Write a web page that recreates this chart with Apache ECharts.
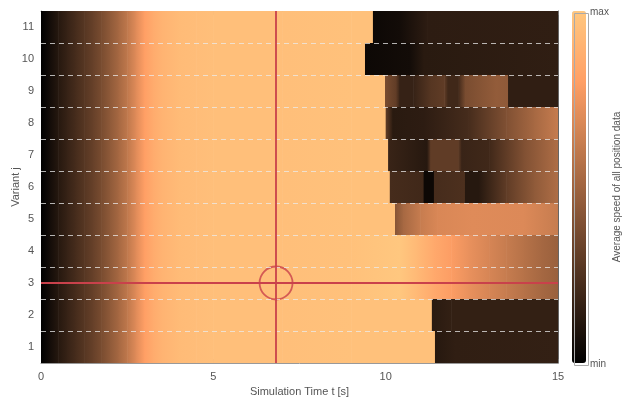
<!DOCTYPE html>
<html>
<head>
<meta charset="utf-8">
<script src="https://cdn.jsdelivr.net/npm/echarts@6/dist/echarts.min.js"></script>
<style>
  html, body { margin: 0; padding: 0; background: #fff; }
  #chart { width: 624px; height: 399px; }
</style>
</head>
<body>
<div id="chart"></div>
<script>
// variants on the y axis, dashed dividers between them
const variants = [1, 2, 3, 4, 5, 6, 7, 8, 9, 10, 11];
const dividers = [1.5, 2.5, 3.5, 4.5, 5.5, 6.5, 7.5, 8.5, 9.5, 10.5];

// common start of every variant (normalised speed 0 = min, 1 = max)
const rampTime  = [0, 0.25, 0.5, 0.75, 1, 1.25, 1.5, 1.75, 2, 2.25, 2.5, 2.75, 3, 3.25, 3.5, 4, 4.5, 5, 7, 9];
const rampSpeed = [0, 0.06, 0.12, 0.17, 0.22, 0.27, 0.32, 0.38, 0.45, 0.52, 0.6, 0.7, 0.8, 0.86, 0.9, 0.94, 0.95, 0.96, 0.96, 0.97];

// rest of each variant as [time, speed]; same time twice = a jump
const tail1  = [[11.43, 0.97], [11.43, 0.12], [12, 0.15], [15, 0.16]];
const tail2  = [[11.34, 0.97], [11.34, 0.13], [11.9, 0.16], [15, 0.16]];
const tail3  = [[10.4, 1.0], [10.9, 0.93], [11.4, 0.85], [11.9, 0.79], [12.4, 0.73], [13, 0.67], [13.5, 0.62], [14, 0.57], [14.5, 0.52], [15, 0.48]];
const tail4  = [[10.4, 1.0], [10.9, 0.93], [11.4, 0.85], [11.9, 0.79], [12.4, 0.73], [13, 0.67], [13.5, 0.62], [14, 0.57], [14.5, 0.52], [15, 0.48]];
const tail5  = [[10.27, 0.97], [10.27, 0.42], [10.5, 0.52], [11, 0.62], [11.5, 0.68], [12.5, 0.7], [14, 0.69], [15, 0.62]];
const tail6  = [[10.12, 0.97], [10.12, 0.22], [11.1, 0.2], [11.1, 0.04], [11.4, 0.04], [11.4, 0.22], [12.3, 0.24], [12.3, 0.12], [12.7, 0.12], [13.5, 0.3], [14.3, 0.45], [15, 0.55]];
const tail7  = [[10.07, 0.97], [10.07, 0.18], [11.2, 0.12], [11.3, 0.3], [12.1, 0.3], [12.2, 0.18], [13, 0.2], [14, 0.4], [15, 0.55]];
const tail8  = [[10.0, 0.97], [10.0, 0.3], [10.2, 0.13], [11.1, 0.14], [12.4, 0.22], [13.5, 0.4], [14.3, 0.52], [15, 0.62]];
const tail9  = [[9.98, 0.97], [9.98, 0.38], [10.3, 0.3], [10.4, 0.17], [10.8, 0.17], [11.3, 0.27], [11.7, 0.3], [11.8, 0.2], [12.1, 0.2], [12.3, 0.38], [13.2, 0.46], [13.55, 0.45], [13.55, 0.15], [15, 0.15]];
const tail10 = [[9.4, 0.97], [9.4, 0.04], [10.7, 0.06], [11.1, 0.13], [15, 0.15]];
const tail11 = [[9.63, 0.97], [9.63, 0.04], [10.4, 0.06], [11.2, 0.14], [15, 0.15]];
const tails = [tail1, tail2, tail3, tail4, tail5, tail6, tail7, tail8, tail9, tail10, tail11];

// selected point (crosshair)
const selTime = 6.82;
const selVariant = 3;

// matlab copper colormap
const copperStops = ['#000000', '#402819', '#805033', '#bf784c', '#ff9f65', '#ffc77f'];
function copper(v) {
  const r = Math.min(1, 1.25 * v), g = 0.7812 * v, b = 0.4975 * v;
  return 'rgb(' + Math.round(r * 255) + ',' + Math.round(g * 255) + ',' + Math.round(b * 255) + ')';
}

// segments [t0, t1, variant, v0, v1]
const cells = [];
variants.forEach((j, k) => {
  const pts = rampTime.map((t, i) => [t, rampSpeed[i]]).concat(tails[k]);
  for (let i = 0; i < pts.length - 1; i++) {
    if (pts[i + 1][0] > pts[i][0]) cells.push([pts[i][0], pts[i + 1][0], j, pts[i][1], pts[i + 1][1]]);
  }
});

const FONT = 'Liberation Sans, Arial, sans-serif';
const TXT = '#555';
const AX = '#999';
const RED = '#c9414b';

const chart = echarts.init(document.getElementById('chart'));
chart.setOption({
  animation: false,
  textStyle: { fontFamily: FONT },
  grid: { left: 41, right: 66, top: 11, bottom: 36, outerBoundsMode: 'none', containLabel: false },
  xAxis: [{
    type: 'value', min: 0, max: 15, interval: 5,
    name: 'Simulation Time t [s]', nameLocation: 'middle', nameGap: 22,
    nameTextStyle: { color: TXT, fontSize: 11, fontFamily: FONT },
    axisLine: { onZero: false, lineStyle: { color: AX } },
    axisTick: { inside: true, length: 4, lineStyle: { color: '#777' } },
    axisLabel: { color: TXT, fontSize: 11, margin: 8, fontFamily: FONT },
    splitLine: { show: false }
  }, {
    type: 'value', position: 'top', min: 0, max: 15, interval: 5,
    axisLine: { onZero: false, lineStyle: { color: AX } },
    axisTick: { inside: true, length: 4, lineStyle: { color: '#777' } },
    axisLabel: { show: false },
    splitLine: { show: false }
  }],
  yAxis: [{
    type: 'value', min: 0.5, max: 11.5,
    name: 'Variant j', nameLocation: 'middle', nameGap: 20, nameMoveOverlap: false,
    nameTextStyle: { color: TXT, fontSize: 11, fontFamily: FONT },
    axisLine: { onZero: false, lineStyle: { color: AX } },
    axisTick: { inside: true, length: 4, customValues: variants, lineStyle: { color: '#777' } },
    axisLabel: { color: TXT, fontSize: 11, margin: 7, customValues: variants, fontFamily: FONT },
    splitLine: { show: false }
  }, {
    type: 'value', position: 'right', min: 0.5, max: 11.5,
    axisLine: { onZero: false, lineStyle: { color: '#666' } },
    axisTick: { inside: true, length: 4, customValues: variants, lineStyle: { color: '#777' } },
    axisLabel: { show: false },
    splitLine: { show: false }
  }],
  visualMap: {
    type: 'continuous', min: 0, max: 1, dimension: 3, seriesIndex: [],
    calculable: false, show: true, text: null, showLabel: false,
    left: 572, top: 11, padding: 0, itemWidth: 14, itemHeight: 352,
    inRange: { color: copperStops }
  },
  series: [{
    type: 'custom',
    clip: true,
    data: cells,
    encode: { x: [0, 1], y: 2 },
    renderItem: function (params, api) {
      const p0 = api.coord([api.value(0), api.value(2) + 0.5]);
      const p1 = api.coord([api.value(1), api.value(2) - 0.5]);
      return {
        type: 'rect',
        shape: { x: p0[0], y: p0[1], width: p1[0] - p0[0] + 0.6, height: p1[1] - p0[1] },
        style: {
          fill: new echarts.graphic.LinearGradient(0, 0, 1, 0, [
            { offset: 0, color: copper(api.value(3)) },
            { offset: 1, color: copper(api.value(4)) }
          ])
        }
      };
    }
  }, {
    type: 'line',
    data: [],
    silent: true,
    markLine: {
      silent: true, symbol: 'none', label: { show: false },
      lineStyle: { color: 'rgba(235,235,235,0.75)', type: [5, 4], width: 1.2 },
      data: dividers.map(y => ({ yAxis: y }))
    }
  }, {
    type: 'scatter',
    silent: true,
    data: [[selTime, selVariant]],
    symbol: 'circle', symbolSize: 33,
    itemStyle: { color: 'rgba(0,0,0,0)', borderColor: RED, borderWidth: 1.8 },
    markLine: {
      silent: true, symbol: 'none', label: { show: false },
      lineStyle: { color: RED, type: 'solid', width: 1.8 },
      data: [{ xAxis: selTime }, { yAxis: selVariant }]
    }
  }],
  graphic: [
    { type: 'rect', left: 572, top: 11, shape: { width: 14, height: 352 }, style: { fill: 'none', stroke: '#aaa', lineWidth: 1 }, z: 100 },
    { type: 'text', x: 590, y: 12, style: { text: 'max', fill: TXT, font: '10px ' + FONT, textVerticalAlign: 'middle' } },
    { type: 'text', x: 590, y: 364, style: { text: 'min', fill: TXT, font: '10px ' + FONT, textVerticalAlign: 'middle' } },
    { type: 'text', x: 617, y: 187, rotation: Math.PI / 2, style: { text: 'Average speed of all position data', fill: TXT, font: '10px ' + FONT, textAlign: 'center', textVerticalAlign: 'middle' } }
  ]
});
</script>
</body>
</html>
